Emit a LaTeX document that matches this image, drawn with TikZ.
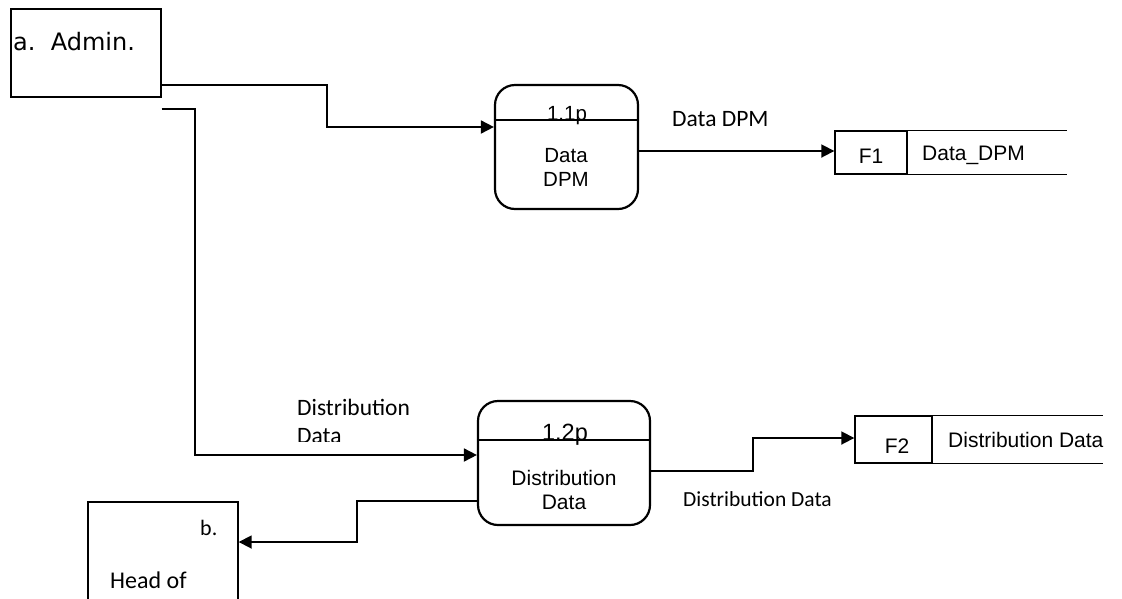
\documentclass[tikz,border=0pt]{standalone}
\usepackage{fontspec}
\newfontfamily\arialfont{Liberation Sans}
\newfontfamily\calibrifont{Carlito}
\newfontfamily\verdanafont{DejaVu Sans}
\usepackage{tikz}
\usetikzlibrary{calc, positioning, arrows.meta}
\tikzset{
  extbox/.style = {draw, line width=1.4pt, inner sep=0pt},
  process/.style = {draw, line width=2.2pt, rounded corners=20pt, inner sep=0pt},
  storeid/.style = {draw, line width=1.4pt, inner sep=0pt},
  divider/.style = {line width=1.4pt},
  flow/.style = {line width=1.8pt, -{Triangle[length=13pt, width=13pt]}},
  arialtxt/.style = {font=\arialfont\fontsize{#1}{#1}\selectfont, inner sep=0pt, anchor=base},
  calibritxt/.style = {font=\calibrifont\fontsize{#1}{#1}\selectfont, inner sep=0pt, anchor=base west},
}

\begin{document}
\begin{tikzpicture}[x=1pt, y=-1pt]
  \useasboundingbox (0,0) rectangle (1122,598);
  % external entities
  \node[extbox, minimum width=150, minimum height=88] (admin) at (86,53) {};
  \node[font=\verdanafont\fontsize{24}{24}\selectfont, inner sep=0pt, anchor=base west] (adminname) at (13,50) {a.\ \ Admin.};
  \node[extbox, minimum width=150, minimum height=140] (head) at (163,572) {};
  \node[calibritxt=22] (headid) at (200,535) {b.};
  \node[calibritxt=24] (headname) at (110,588) {Head of};
  % processes
  \node[process, minimum width=143, minimum height=124] (p11) at (566.5,147) {};
  \draw[divider] (p11.west |- 0,120) -- (p11.east |- 0,120);
  \node[arialtxt=20.5] (p11id) at (567,120) {1.1p};
  \node[arialtxt=20.5] (p11top) at (566,162) {Data};
  \node[arialtxt=20.5] (p11bot) at (566,186) {DPM};
  \node[process, minimum width=172, minimum height=124] (p12) at (564,463) {};
  \draw[divider] (p12.west |- 0,440) -- (p12.east |- 0,440);
  \node[arialtxt=23.5] (p12id) at (565,440) {1.2p};
  \node[arialtxt=21] (p12top) at (564,485) {Distribution};
  \node[arialtxt=21] (p12bot) at (564,509) {Data};
  % data stores
  \node[storeid, minimum width=72, minimum height=43] (f1) at (871,152.5) {};
  \draw[divider] (f1.north east) -- (f1.north east -| 1067,0);
  \draw[divider] (f1.south east) -- (f1.south east -| 1067,0);
  \node[arialtxt=21] (f1id) at (871,163) {F1};
  \node[arialtxt=21, anchor=base west] (f1name) at (922,160) {Data\_DPM};
  \node[storeid, minimum width=77, minimum height=47] (f2) at (893.5,439.5) {};
  \draw[divider] (f2.north east) -- (f2.north east -| 1103,0);
  \draw[divider] (f2.south east) -- (f2.south east -| 1103,0);
  \node[arialtxt=21] (f2id) at (897,453) {F2};
  \node[arialtxt=21, anchor=base west] (f2name) at (948,447) {Distribution Data};
  % flows
  \draw[flow] (admin.east |- 0,85) -- (327,85) |- (p11.west |- 0,127);
  \draw[flow] (admin.east |- 0,109) -- (195,109) |- (p12.west |- 0,455);
  \draw[flow] (p11.east |- 0,151) -- (f1.west |- 0,151);
  \draw[flow] (p12.east |- 0,471) -- (753,471) |- (f2.west |- 0,438);
  \draw[flow] (p12.west |- 0,501) -- (357,501) |- (head.east |- 0,542);
  % flow labels
  \node[calibritxt=23.5] (lbl1) at (672,126) {Data DPM};
  \node[calibritxt=21.5] (lbl3) at (683,506) {Distribution Data};
  \begin{scope}
    \clip (280,380) rectangle (440,441);
    \node[calibritxt=23.5] (lbl2a) at (297,415) {Distribution};
    \node[calibritxt=23.5] (lbl2b) at (297,443) {Data};
  \end{scope}
\end{tikzpicture}
\end{document}
